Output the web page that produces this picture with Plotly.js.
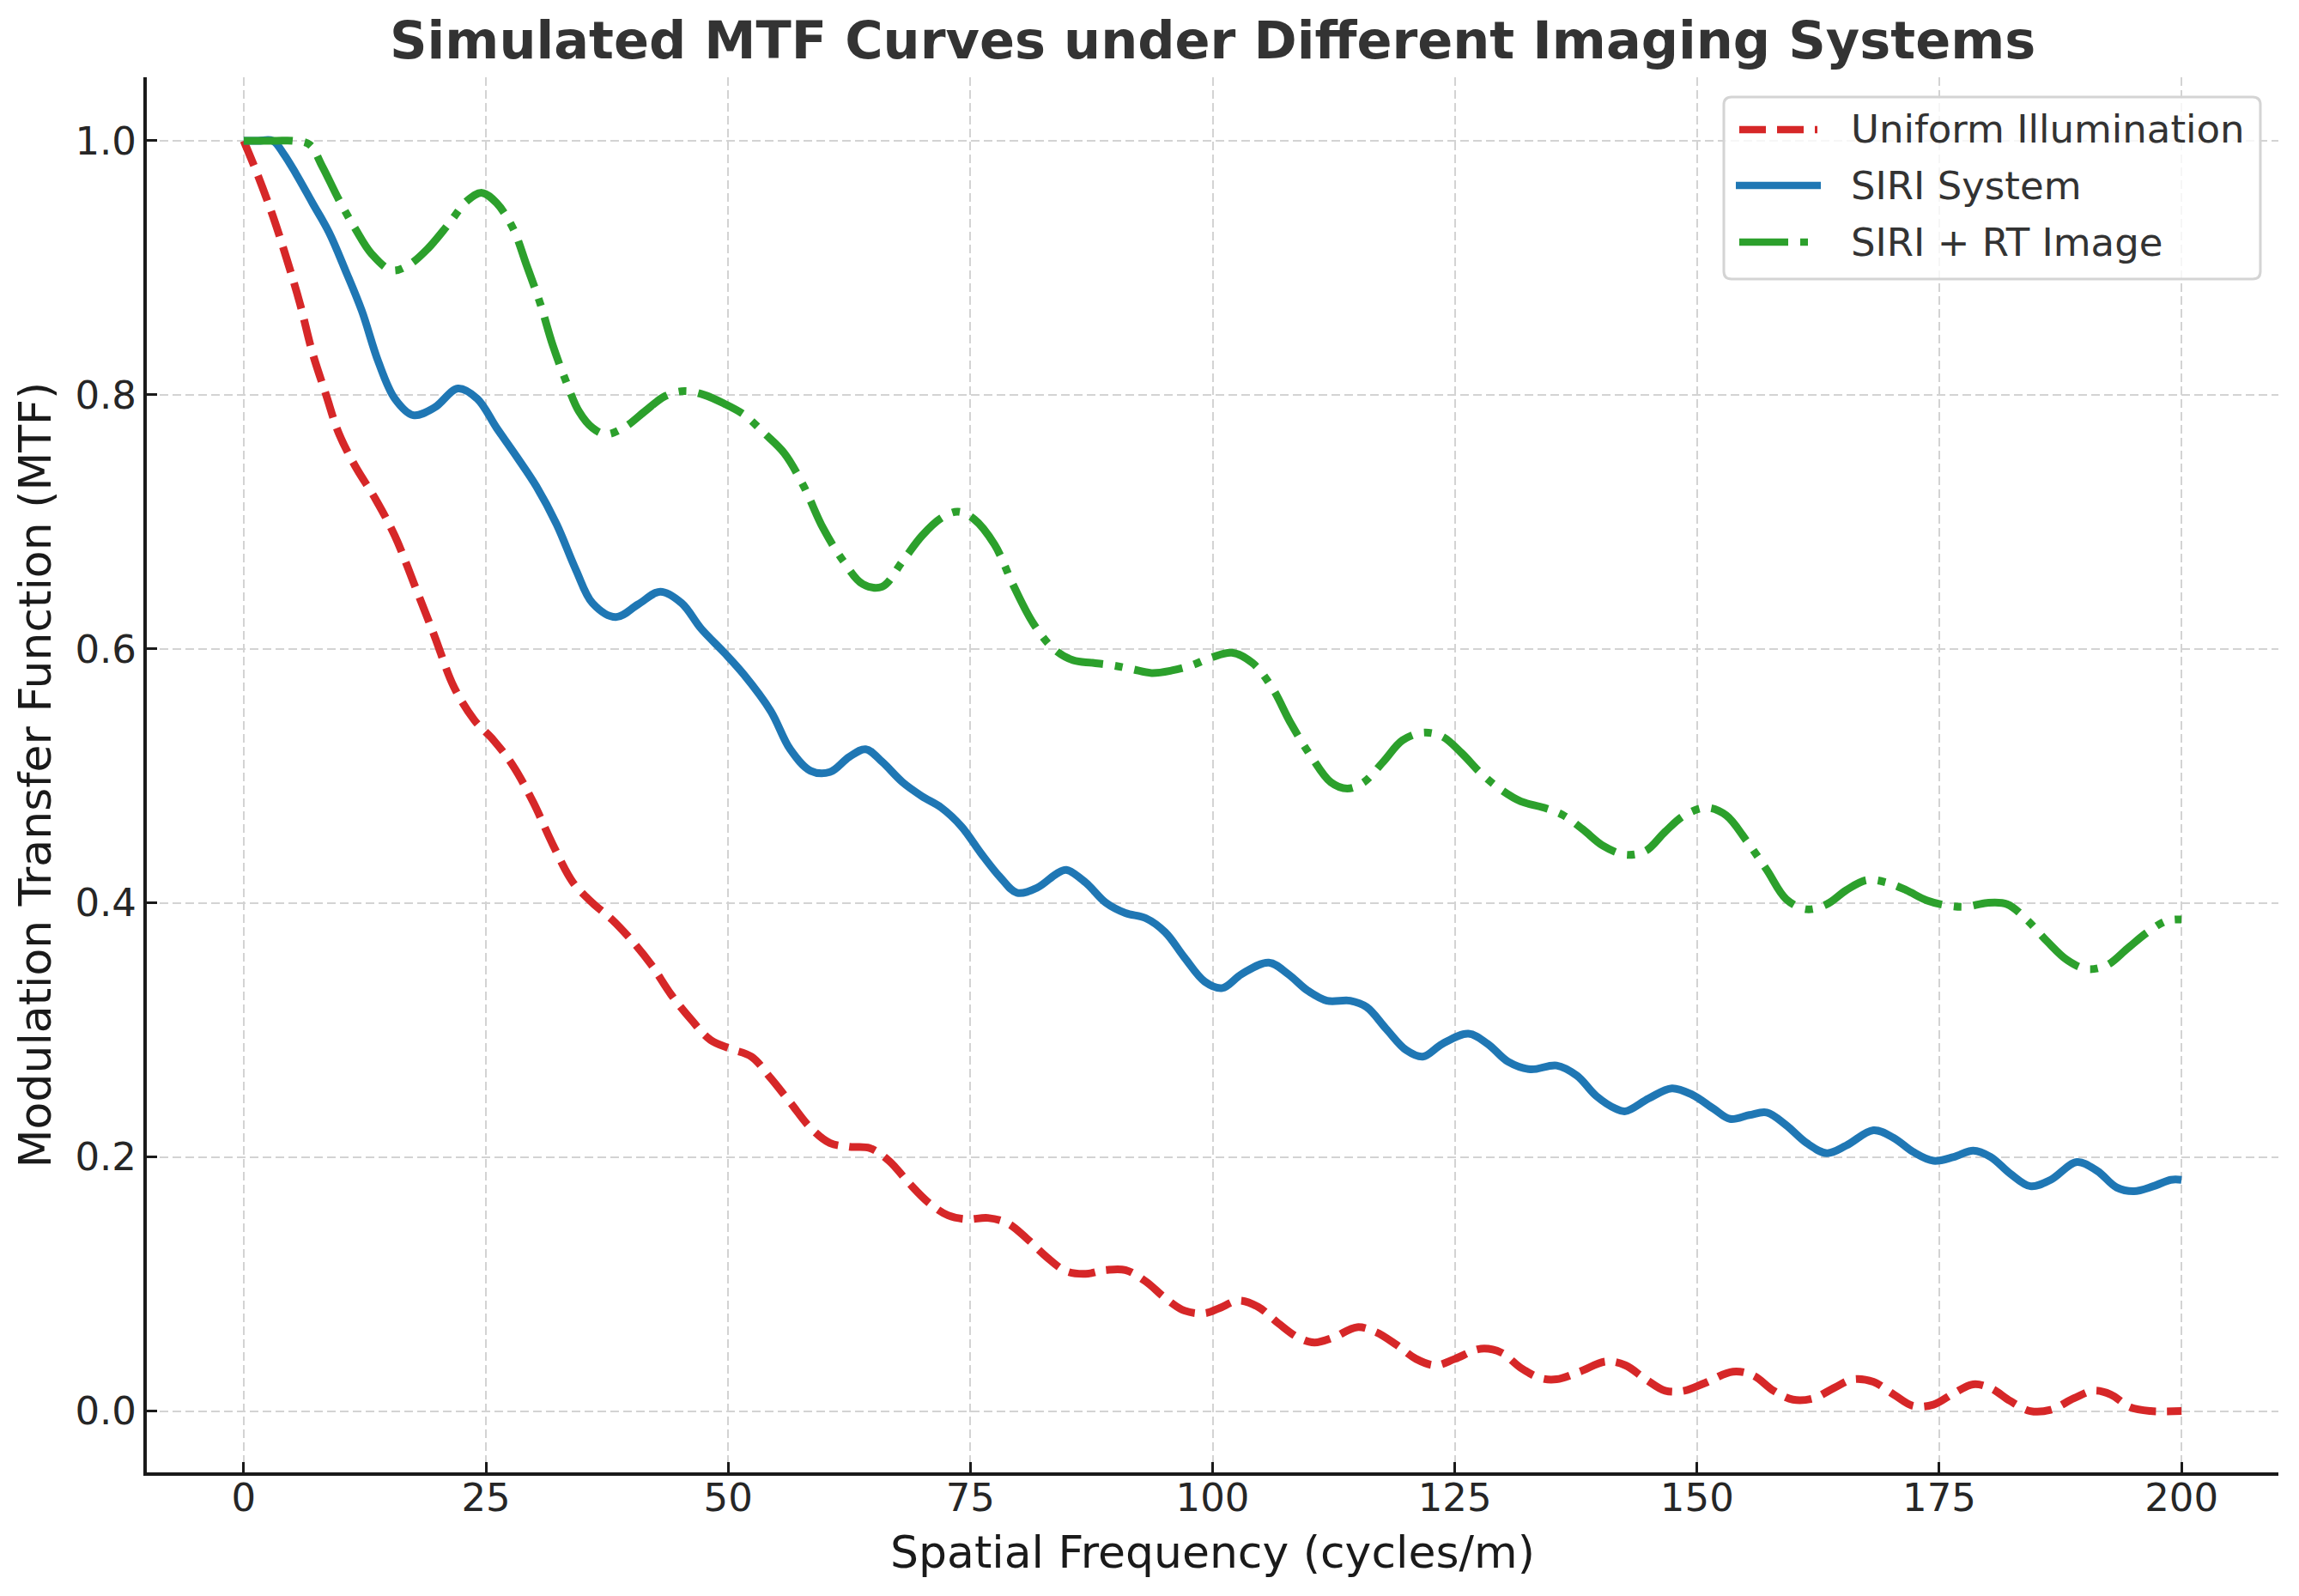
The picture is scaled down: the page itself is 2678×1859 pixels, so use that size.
<!DOCTYPE html>
<html>
<head>
<meta charset="utf-8">
<script src="https://cdn.plot.ly/plotly-3.0.1.min.js"></script>
<style>
html, body { margin: 0; padding: 0; background: #ffffff; }
#chart { width: 2678px; height: 1859px; }
</style>
</head>
<body>
<div id="chart"></div>
<script>
// ---- Data ----
const seriesNames = ["Uniform Illumination", "SIRI System", "SIRI + RT Image"];

const uniformX = [0,1.4,3.0,4.4,5.8,7.1,8.5,9.8,11.5,13.6,15.6,17.7,19.7,21.7,23.8,25.8,27.8,29.9,31.9,34.0,36.0,38.0,40.1,42.1,44.1,46.2,48.2,50.3,52.4,54.4,56.4,58.5,60.5,62.5,64.6,66.6,68.6,70.7,72.7,74.7,76.8,78.8,80.8,82.9,84.9,86.9,89.0,91.0,93.1,95.1,97.1,99.2,100.7,102.7,104.7,106.8,108.8,110.5,112.5,114.9,116.9,119.0,121.0,123.0,125.0,127.7,129.8,131.8,133.8,135.5,137.9,140.6,142.6,144.7,146.7,148.7,150.8,153.7,155.8,157.9,159.9,162.0,164.1,166.1,168.2,170.3,172.3,174.4,176.5,178.5,180.3,182.3,184.4,186.5,188.9,190.9,192.7,194.7,196.8,200];
const uniformY = [1.0,0.974,0.941,0.908,0.872,0.833,0.800,0.770,0.744,0.718,0.689,0.649,0.610,0.570,0.544,0.528,0.508,0.479,0.446,0.416,0.400,0.387,0.370,0.351,0.328,0.308,0.292,0.285,0.279,0.262,0.243,0.223,0.211,0.208,0.207,0.197,0.180,0.164,0.154,0.151,0.152,0.148,0.136,0.121,0.110,0.108,0.111,0.111,0.102,0.089,0.079,0.077,0.081,0.087,0.082,0.069,0.058,0.054,0.058,0.066,0.062,0.052,0.041,0.036,0.041,0.049,0.046,0.034,0.026,0.025,0.031,0.039,0.036,0.025,0.016,0.016,0.022,0.031,0.028,0.016,0.009,0.010,0.018,0.025,0.023,0.013,0.004,0.005,0.014,0.021,0.018,0.008,0.000,0.001,0.010,0.016,0.013,0.003,0.000,0.000];

const siriX = [0,1.5,3.0,4.1,5.4,7.1,8.8,10.5,12.2,13.9,15.6,17.5,19.7,22.1,24.1,26.1,28.2,30.2,32.3,34.3,36.0,38.4,40.7,43.0,45.2,47.2,49.6,51.6,54.4,56.4,58.5,60.5,62.5,64.2,65.9,68.0,70.0,72.0,74.1,76.1,78.1,79.8,81.9,83.9,84.9,86.9,89.0,91.0,93.1,95.1,97.1,99.2,101.0,103.0,105.8,107.8,109.8,111.8,114.2,115.9,117.9,120.0,121.7,123.7,126.4,128.4,130.5,132.8,135.5,137.6,139.6,141.6,142.6,145.0,147.4,149.5,151.7,153.4,155.4,157.2,159.2,161.3,163.4,165.4,168.2,170.3,172.3,174.4,176.5,178.5,180.3,182.3,184.4,186.5,189.2,191.3,193.3,195.1,197.1,198.9,200];
const siriY = [1.0,1.0,1.0,0.990,0.974,0.951,0.928,0.898,0.866,0.826,0.797,0.784,0.790,0.805,0.797,0.774,0.751,0.728,0.698,0.662,0.636,0.625,0.635,0.645,0.636,0.616,0.597,0.580,0.551,0.521,0.504,0.503,0.515,0.521,0.511,0.495,0.484,0.475,0.460,0.439,0.420,0.408,0.412,0.423,0.426,0.416,0.400,0.392,0.388,0.377,0.357,0.338,0.333,0.344,0.353,0.344,0.331,0.323,0.323,0.318,0.301,0.284,0.279,0.289,0.297,0.289,0.275,0.269,0.272,0.264,0.248,0.238,0.236,0.246,0.254,0.249,0.238,0.230,0.233,0.235,0.225,0.211,0.203,0.209,0.221,0.215,0.204,0.197,0.200,0.205,0.200,0.187,0.177,0.182,0.196,0.189,0.176,0.173,0.177,0.182,0.182];

const rtX = [0,1.7,3.4,5.1,6.8,8.1,9.8,11.5,13.2,15.3,17.0,19.0,21.1,23.1,24.6,26.1,27.8,29.2,30.6,31.9,33.3,34.6,36.0,37.4,39.4,41.4,43.5,45.5,47.5,49.6,51.7,53.7,55.8,57.8,59.8,61.9,63.9,65.9,68.0,70.0,72.0,73.7,75.4,77.5,79.5,81.5,83.6,85.6,87.6,89.7,91.7,93.7,95.8,97.8,99.8,102.0,104.1,106.1,108.1,110.2,112.2,113.9,115.6,117.6,119.6,121.7,123.7,125.7,127.7,129.8,131.8,134.2,136.2,138.2,140.3,142.6,144.7,146.7,148.7,151.0,153.0,155.1,157.2,159.2,161.3,163.4,165.4,167.5,169.6,171.6,173.7,175.8,177.8,179.9,182.0,184.0,186.1,188.2,190.2,192.3,194.4,196.5,198.5,200];
const rtY = [1.0,1.0,1.0,1.0,0.997,0.980,0.954,0.931,0.911,0.898,0.902,0.915,0.934,0.953,0.959,0.951,0.931,0.902,0.872,0.839,0.810,0.787,0.774,0.769,0.775,0.787,0.799,0.803,0.800,0.793,0.784,0.770,0.754,0.728,0.695,0.669,0.651,0.649,0.669,0.689,0.703,0.708,0.702,0.682,0.649,0.620,0.600,0.591,0.589,0.587,0.584,0.581,0.583,0.587,0.593,0.597,0.589,0.570,0.541,0.515,0.495,0.490,0.495,0.511,0.528,0.534,0.531,0.518,0.502,0.489,0.480,0.475,0.469,0.458,0.445,0.438,0.441,0.456,0.469,0.475,0.469,0.449,0.426,0.403,0.395,0.399,0.410,0.418,0.416,0.410,0.402,0.398,0.397,0.400,0.399,0.387,0.370,0.355,0.348,0.351,0.364,0.377,0.386,0.387];

const xTicks = [0, 25, 50, 75, 100, 125, 150, 175, 200];
const yTicks = [0.0, 0.2, 0.4, 0.6, 0.8, 1.0];

// ---- Styles ----
const FONT = "DejaVu Sans, Liberation Sans, Arial, sans-serif";
const LW = 9;
const COLORS = ["#d62728", "#1f77b4", "#2ca02c"];
const DASHES = ["31px,13px", "solid", "57px,14px,9px,14px"];

const seriesX = [uniformX, siriX, rtX];
const seriesY = [uniformY, siriY, rtY];

const traces = seriesNames.map((name, i) => ({
  type: "scatter", mode: "lines", hoverinfo: "skip", showlegend: false,
  x: seriesX[i], y: seriesY[i], name: name,
  line: {color: COLORS[i], width: LW, dash: DASHES[i], shape: "spline", smoothing: 1.0}
}));

// ---- Figure geometry (pixels) ----
const W = 2678, H = 1859;
const M = {l: 171, r: 24, t: 90, b: 144};
const PW = W - M.l - M.r, PH = H - M.t - M.b;
const px2x = p => (p - M.l) / PW;          // pixel x -> paper x
const px2y = p => 1 - (p - M.t) / PH;      // pixel y (from top) -> paper y

// ---- Legend drawn as shapes + text (matplotlib-like proportions) ----
const LEG = {x0: 2008, x1: 2633, y0: 113, y1: 325, r: 9, lineX0: 2026, lineX1: 2117, textX: 2154, rows: [151, 216, 282]};
function roundedRectPath(x0, y0, x1, y1, r) {
  const X0 = px2x(x0), X1 = px2x(x1), Y0 = px2y(y0), Y1 = px2y(y1);
  const rx = r / PW, ry = r / PH;
  return `M${X0 + rx},${Y0} L${X1 - rx},${Y0} Q${X1},${Y0} ${X1},${Y0 - ry} ` +
         `L${X1},${Y1 + ry} Q${X1},${Y1} ${X1 - rx},${Y1} L${X0 + rx},${Y1} ` +
         `Q${X0},${Y1} ${X0},${Y1 + ry} L${X0},${Y0 - ry} Q${X0},${Y0} ${X0 + rx},${Y0} Z`;
}

const shapes = [{
  type: "path", xref: "paper", yref: "paper", layer: "above",
  path: roundedRectPath(LEG.x0, LEG.y0, LEG.x1, LEG.y1, LEG.r),
  fillcolor: "rgba(255,255,255,0.8)", line: {color: "#d4d4d4", width: 3}
}];
const annotations = [];
seriesNames.forEach((name, i) => {
  const yy = px2y(LEG.rows[i]);
  const solid = DASHES[i] === "solid";
  shapes.push({
    type: "line", xref: "paper", yref: "paper", layer: "above",
    x0: px2x(solid ? LEG.lineX0 - 4 : LEG.lineX0), x1: px2x(solid ? LEG.lineX1 + 4 : LEG.lineX1),
    y0: yy, y1: yy,
    line: {color: COLORS[i], width: 8.5, dash: DASHES[i]}
  });
  annotations.push({
    xref: "paper", yref: "paper", x: px2x(LEG.textX), y: yy,
    xanchor: "left", yanchor: "middle", showarrow: false, text: name,
    font: {family: FONT, size: 45, color: "#333333"}
  });
});

const axisCommon = {
  showgrid: true, gridcolor: "#d3d3d3", gridwidth: 2, griddash: "10px,5px",
  zeroline: false, showline: true, linecolor: "#1a1a1a", linewidth: 4,
  ticks: "inside", ticklen: 12, tickwidth: 3, tickcolor: "#1a1a1a",
  tickfont: {family: FONT, size: 45, color: "#262626"},
  mirror: false, automargin: false
};

const layout = {
  width: W, height: H,
  margin: {l: M.l, r: M.r, t: M.t, b: M.b, pad: 0},
  paper_bgcolor: "#ffffff", plot_bgcolor: "#ffffff",
  font: {family: FONT, color: "#333333"},
  title: {
    text: "<b>Simulated MTF Curves under Different Imaging Systems</b>",
    font: {family: FONT, size: 60.5, color: "#333333"},
    x: 0.5275, xref: "container", xanchor: "center",
    y: 0.975, yref: "container", yanchor: "middle"
  },
  xaxis: Object.assign({}, axisCommon, {
    range: [-10, 210], tickvals: xTicks, ticktext: xTicks.map(String),
    ticklabelstandoff: -13,
    title: {text: "Spatial Frequency (cycles/m)", font: {family: FONT, size: 52, color: "#1a1a1a"}, standoff: 21}
  }),
  yaxis: Object.assign({}, axisCommon, {
    range: [-0.0483, 1.05], tickvals: yTicks, ticktext: yTicks.map(v => v.toFixed(1)),
    ticklabelstandoff: -1,
    title: {text: "Modulation Transfer Function (MTF)", font: {family: FONT, size: 52, color: "#1a1a1a"}, standoff: 12}
  }),
  showlegend: false,
  shapes: shapes,
  annotations: annotations
};

Plotly.newPlot("chart", traces, layout, {staticPlot: true, displayModeBar: false, responsive: false});
</script>
</body>
</html>
